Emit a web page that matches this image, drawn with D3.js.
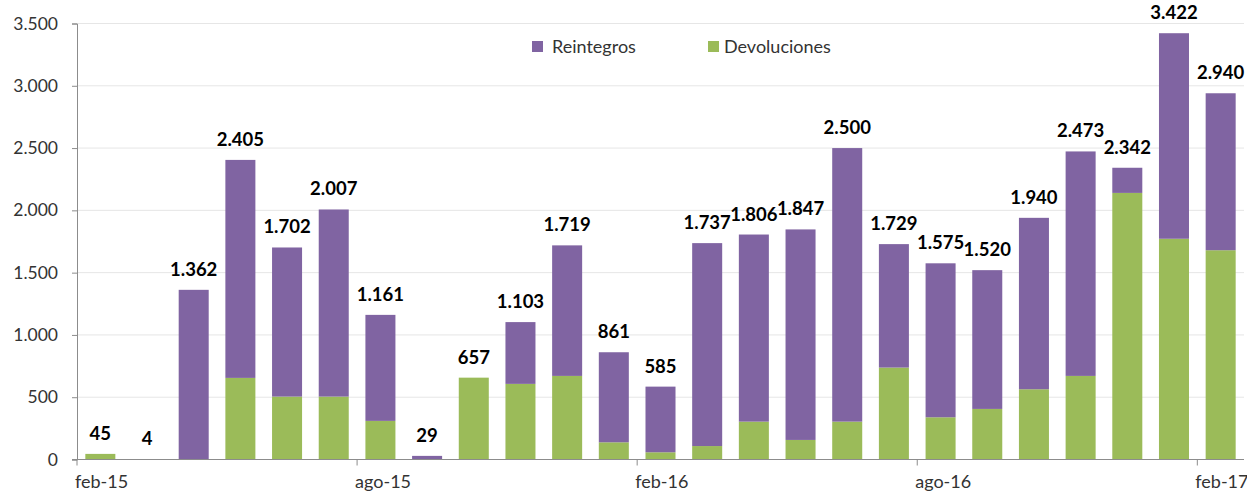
<!DOCTYPE html>
<html><head><meta charset="utf-8">
<script src="https://cdn.jsdelivr.net/npm/d3@7"></script>
<style>body{margin:0;background:#fff}svg{display:block;font-family:Lato,"Open Sans",sans-serif}</style>
</head><body><svg id="c" width="1247" height="492"></svg>
<script>
const categories = ["feb-15","mar-15","abr-15","may-15","jun-15","jul-15","ago-15","sep-15","oct-15","nov-15","dic-15","ene-16","feb-16","mar-16","abr-16","may-16","jun-16","jul-16","ago-16","sep-16","oct-16","nov-16","dic-16","ene-17","feb-17"];
const devoluciones = [45,4,0,655,505,505,310,0,657,607,671,138,58,108,304,157,304,738,339,406,564,671,2140,1772,1680];
const reintegros = [0,0,1362,1750,1197,1502,851,29,0,496,1048,723,527,1629,1502,1690,2196,991,1236,1114,1376,1802,202,1650,1260];
const totals = [45,4,1362,2405,1702,2007,1161,29,657,1103,1719,861,585,1737,1806,1847,2500,1729,1575,1520,1940,2473,2342,3422,2940];
const yTicks = [0,500,1000,1500,2000,2500,3000,3500];
const xTickLabels = ["feb-15","ago-15","feb-16","ago-16","feb-17"];
const seriesNames = ["Reintegros","Devoluciones"];
const colors = {Reintegros:"#8064A2", Devoluciones:"#9BBB59"};

const svg = d3.select("#c");
const x0 = 77, x1 = 1244, yBase = 459.5, yTop = 23.5;
const x = d3.scaleBand().domain(categories).range([x0,x1]).paddingInner(0.357).paddingOuter(0.1785);
const y = d3.scaleLinear().domain([0,3500]).range([yBase,yTop]);
const loc = d3.formatLocale({decimal:",",thousands:".",grouping:[3],currency:["","€"]});
const fmt = loc.format(",d");

// gridlines
svg.append("g").selectAll("line").data(yTicks.filter(d=>d>0)).join("line")
  .attr("x1",x0).attr("x2",x1).attr("y1",d=>y(d)).attr("y2",d=>y(d))
  .attr("stroke","#e6e6e6").attr("stroke-width",1);

// y axis
const yAxis = d3.axisLeft(y).tickValues(yTicks).tickFormat(fmt).tickSize(5).tickPadding(14);
const gy = svg.append("g").attr("transform",`translate(${x0},0)`).call(yAxis);
gy.select(".domain").attr("stroke","#8c8c8c");
gy.selectAll(".tick line").attr("stroke","#8c8c8c");
gy.selectAll(".tick text").attr("fill","#333").style("font-size","17.5px").style("font-family","Lato,sans-serif");

// stacked bars
const rows = categories.map((c,i)=>({cat:c, Devoluciones:devoluciones[i], Reintegros:reintegros[i], total:totals[i]}));
const stack = d3.stack().keys(["Devoluciones","Reintegros"])(rows);
svg.append("g").selectAll("g").data(stack).join("g").attr("fill",d=>colors[d.key])
  .selectAll("rect").data(d=>d).join("rect")
  .attr("x",d=>x(d.data.cat)).attr("width",x.bandwidth())
  .attr("y",d=>y(d[1])).attr("height",d=>Math.max(0,y(d[0])-y(d[1])));

// x axis
const step = x.step();
const slotStart = c => x(c) - (step - x.bandwidth())/2;
svg.append("line").attr("x1",x0-5).attr("x2",x1).attr("y1",yBase).attr("y2",yBase).attr("stroke","#8c8c8c");
const xt = svg.append("g");
xTickLabels.forEach(lbl=>{
  const px = slotStart(lbl);
  xt.append("line").attr("x1",px).attr("x2",px).attr("y1",yBase).attr("y2",yBase+6).attr("stroke","#8c8c8c");
  xt.append("text").attr("x",px-2).attr("y",488).attr("text-anchor","start")
    .attr("fill","#333").style("font-size","18px").text(lbl);
});

// data labels
svg.append("g").selectAll("text").data(rows).join("text")
  .attr("x",d=>x(d.cat)+x.bandwidth()/2).attr("y",d=>y(d.total)-14)
  .attr("text-anchor","middle").attr("font-weight","bold").attr("fill","#000")
  .style("font-size","18.5px").text(d=>fmt(d.total));

// legend
const lg = svg.append("g");
const legendPos = [{x:532,tx:552},{x:708,tx:724}];
seriesNames.forEach((n,i)=>{
  lg.append("rect").attr("x",legendPos[i].x).attr("y",41).attr("width",11).attr("height",11).attr("fill",colors[n]);
  lg.append("text").attr("x",legendPos[i].tx).attr("y",53).attr("fill","#333").style("font-size","18px").text(n);
});
</script></body></html>
